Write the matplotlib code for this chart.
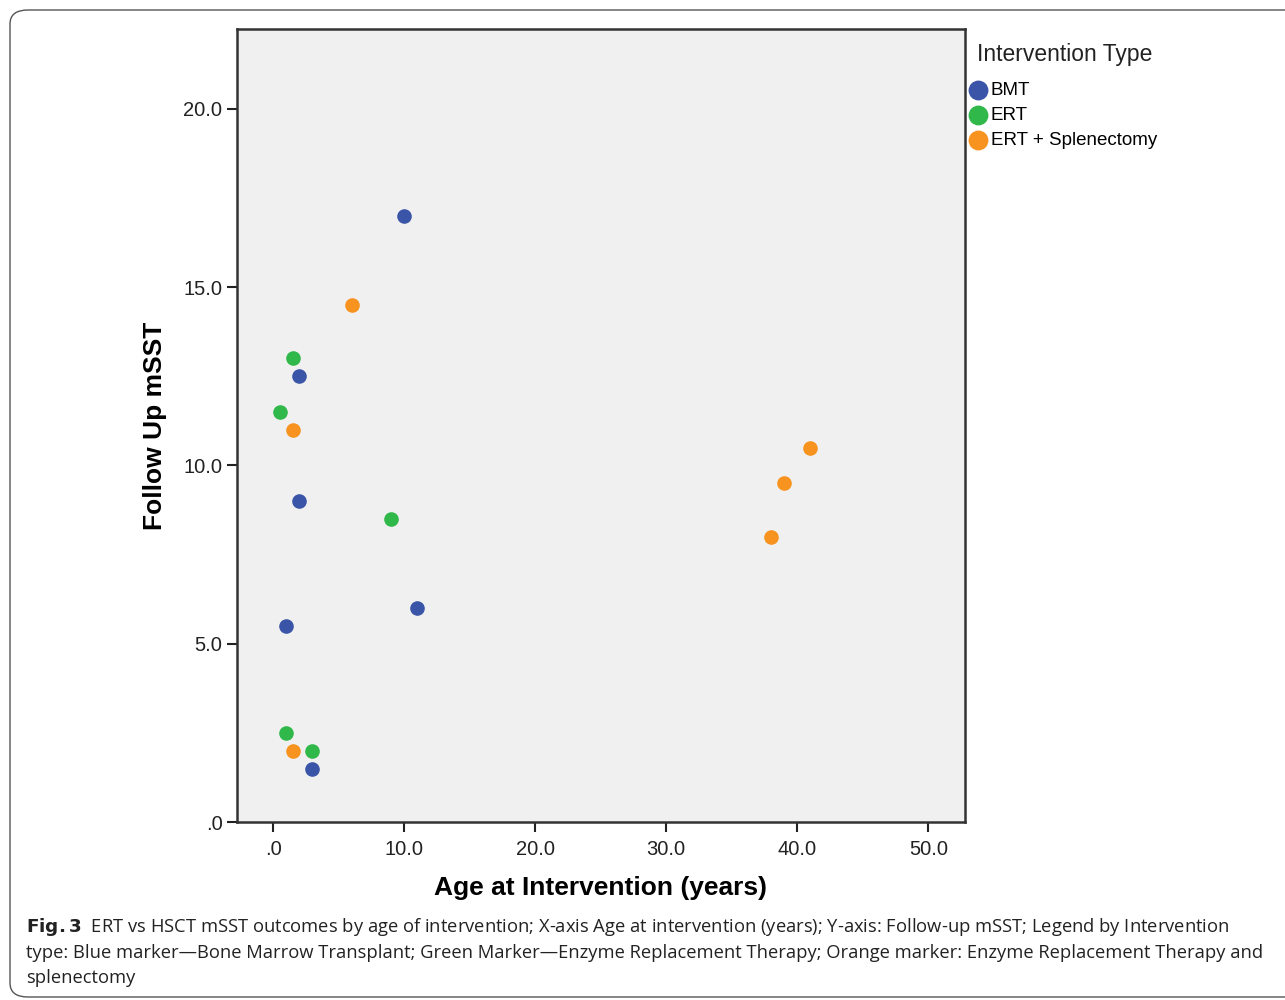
import matplotlib.pyplot as plt
from matplotlib.patches import FancyBboxPatch

# Data
bmt_age = [10, 2, 2, 11, 1, 3]
bmt_msst = [17.0, 12.5, 9.0, 6.0, 5.5, 1.5]

ert_age = [1.5, 0.5, 9, 1, 3]
ert_msst = [13.0, 11.5, 8.5, 2.5, 2.0]

spl_age = [6, 1.5, 1.5, 41, 39, 38]
spl_msst = [14.5, 11.0, 2.0, 10.5, 9.5, 8.0]

x_ticks = [0, 10, 20, 30, 40, 50]
x_labels = [".0", "10.0", "20.0", "30.0", "40.0", "50.0"]
y_ticks = [0, 5, 10, 15, 20]
y_labels = [".0", "5.0", "10.0", "15.0", "20.0"]

plt.rcParams['font.family'] = ['Liberation Sans', 'DejaVu Sans']

W, H = 1285, 1000
fig = plt.figure(figsize=(W / 100, H / 100), dpi=100)

# rounded frame around the figure (right side runs off the page)
frame = FancyBboxPatch((10 / W, 1 - 997 / H), 1.2, (997 - 10) / H,
                       boxstyle="round,pad=0,rounding_size=0.014",
                       transform=fig.transFigure, fill=False,
                       edgecolor='#555555', linewidth=1.0)
fig.patches.append(frame)

ax = fig.add_axes([237 / W, 1 - 822 / H, (965 - 237) / W, (822 - 29) / H])
ax.set_facecolor('#f0f0f0')

ax.scatter(bmt_age, bmt_msst, s=90, color='#3a55a8', label='BMT', zorder=3)
ax.scatter(ert_age, ert_msst, s=90, color='#30b84a', label='ERT', zorder=3)
ax.scatter(spl_age, spl_msst, s=90, color='#f7931e', label='ERT + Splenectomy', zorder=3)

ax.set_xlim(-2.75, 52.8)
ax.set_ylim(0, 22.24)
ax.set_xticks(x_ticks)
ax.set_xticklabels(x_labels)
ax.set_yticks(y_ticks)
ax.set_yticklabels(y_labels)
ax.tick_params(direction='out', length=7, width=1.5, labelsize=14.5, colors='#222222')
ax.tick_params(axis='x', pad=6)

for s in ax.spines.values():
    s.set_linewidth(1.8)
    s.set_color('#333333')

ax.set_xlabel('Age at Intervention (years)', fontsize=19, fontweight='bold', labelpad=12)
ax.set_ylabel('Follow Up mSST', fontsize=19, fontweight='bold', labelpad=12)

# legend title as its own text so the markers can hang left of it
fig.text(977 / W, 1 - 55 / H, 'Intervention Type', fontsize=16.5, va='center',
         ha='left', color='#222222')
fig.legend(loc='upper left', bbox_to_anchor=(968.5 / W, 1 - 82 / H), frameon=False,
           fontsize=13.5, handlelength=1.0, handletextpad=0.2, labelspacing=0.42,
           borderpad=0, borderaxespad=0, markerscale=1.4)

caption = ("$\\bf{Fig. 3}$  ERT vs HSCT mSST outcomes by age of intervention; X-axis Age at intervention (years); "
           "Y-axis: Follow-up mSST; Legend by Intervention\n"
           "type: Blue marker\u2014Bone Marrow Transplant; Green Marker\u2014Enzyme Replacement Therapy; "
           "Orange marker: Enzyme Replacement Therapy and\nsplenectomy")
fig.text(26 / W, 1 - 916 / H, caption, fontsize=13.2, va='top', ha='left',
         family=['Open Sans', 'DejaVu Sans'], color='#222222', linespacing=1.45)

fig.savefig('out.png', dpi=100)
